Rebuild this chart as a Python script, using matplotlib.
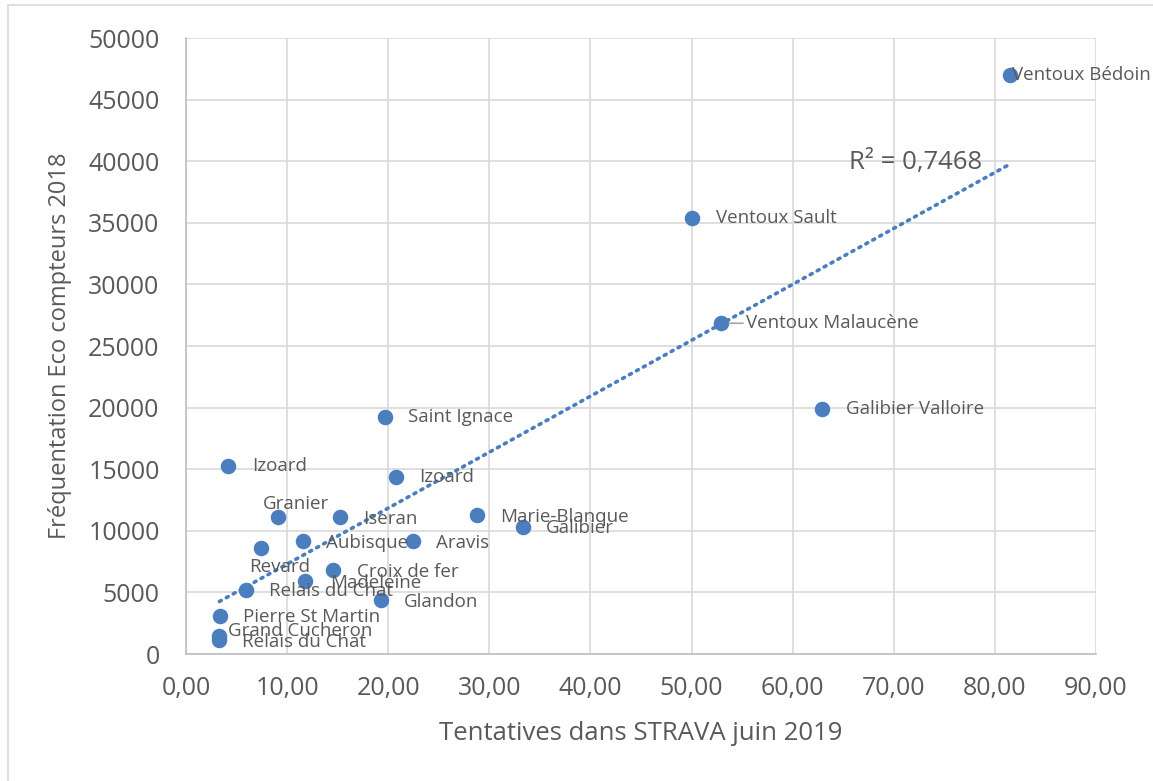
import numpy as np
import matplotlib.pyplot as plt
from matplotlib.patches import Rectangle

plt.rcParams['font.family'] = ['Open Sans', 'DejaVu Sans']

# data
cols = ["Ventoux Bédoin", "Ventoux Sault", "Ventoux Malaucène", "Galibier Valloire",
        "Saint Ignace", "Izoard", "Izoard", "Granier", "Iseran", "Marie-Blanque",
        "Galibier", "Aubisque", "Aravis", "Revard", "Croix de fer", "Madeleine",
        "Relais du Chat", "Glandon", "Pierre St Martin", "Grand Cucheron", "Relais du Chat"]
strava = [81.5, 50.05, 52.9, 62.9, 19.7, 4.15, 20.8, 9.1, 15.2, 28.8,
          33.3, 11.6, 22.5, 7.4, 14.5, 11.8, 5.9, 19.3, 3.4, 3.3, 3.3]
eco = [47000, 35400, 26850, 19850, 19200, 15250, 14350, 11150, 11150, 11250,
       10300, 9150, 9200, 8600, 6800, 5900, 5200, 4400, 3050, 1450, 1100]
r2_text = "R² = 0,7468"

# label offsets in pixels (dx, dy)
offsets = [(2, 0), (24, 0), (25, 0), (24, 0), (23, 0), (24, 0), (23, 0), (-15, 13),
           (23, -2), (23, -2), (23, -1), (23, -2), (23, -2), (-12, -19), (24, -2),
           (25, -2), (23, -1), (23, -2), (23, -1), (9, 5), (23, -2)]

grey = '#595959'
blue = '#4A7EBF'

fig = plt.figure(figsize=(11.53, 7.81), dpi=100)
fig.patches.append(Rectangle((0.007, -0.01), 1.1, 1.004, transform=fig.transFigure,
                             fill=False, edgecolor='#D9D9D9', linewidth=1.2))
ax = fig.add_axes([0.1613, 0.1626, 0.7893, 0.7887])

x = np.array(strava)
y = np.array(eco)
ax.scatter(x, y, s=125, color=blue, zorder=3, linewidths=0)

# linear trendline
p = np.polyfit(x, y, 1)
tx = np.array([x.min(), x.max()])
ax.plot(tx, np.polyval(p, tx), linestyle=(0, (0.6, 1.6)), color=blue, linewidth=2.6,
        dash_capstyle='round', zorder=2)
ax.text(65.6, 39900, r2_text, fontsize=18.5, color=grey, va='center', ha='left')

for name, xi, yi, (dx, dy) in zip(cols, strava, eco, offsets):
    if name == "Ventoux Malaucène":
        ax.annotate(name, (xi, yi), xytext=(dx * 0.72, dy * 0.72), textcoords='offset points',
                    fontsize=13.5, color=grey, va='center', ha='left', zorder=4,
                    arrowprops=dict(arrowstyle='-', color='#A6A6A6', lw=1.2,
                                    shrinkA=0, shrinkB=6))
    else:
        ax.annotate(name, (xi, yi), xytext=(dx * 0.72, dy * 0.72), textcoords='offset points',
                    fontsize=13.5, color=grey, va='center', ha='left', zorder=4)

ax.set_xlim(0, 90)
ax.set_ylim(0, 50000)
ax.set_xticks(np.arange(0, 91, 10))
ax.set_yticks(np.arange(0, 50001, 5000))
ax.set_xticklabels([f"{v:.2f}".replace('.', ',') for v in np.arange(0, 91, 10)])
ax.grid(True, color='#D9D9D9', linewidth=1.2)
ax.set_axisbelow(True)
for s in ['top', 'right']:
    ax.spines[s].set_visible(False)
for s in ['left', 'bottom']:
    ax.spines[s].set_color('#BFBFBF')
    ax.spines[s].set_linewidth(1.2)
ax.tick_params(length=0, labelsize=18, labelcolor=grey)
ax.tick_params(axis='y', pad=19)
ax.tick_params(axis='x', pad=16)

ax.set_xlabel("Tentatives dans STRAVA juin 2019", fontsize=18.5, color=grey, labelpad=14)
ax.set_ylabel("Fréquentation Eco compteurs 2018", fontsize=17, color=grey, labelpad=12)

plt.savefig('out.png', dpi=100)
